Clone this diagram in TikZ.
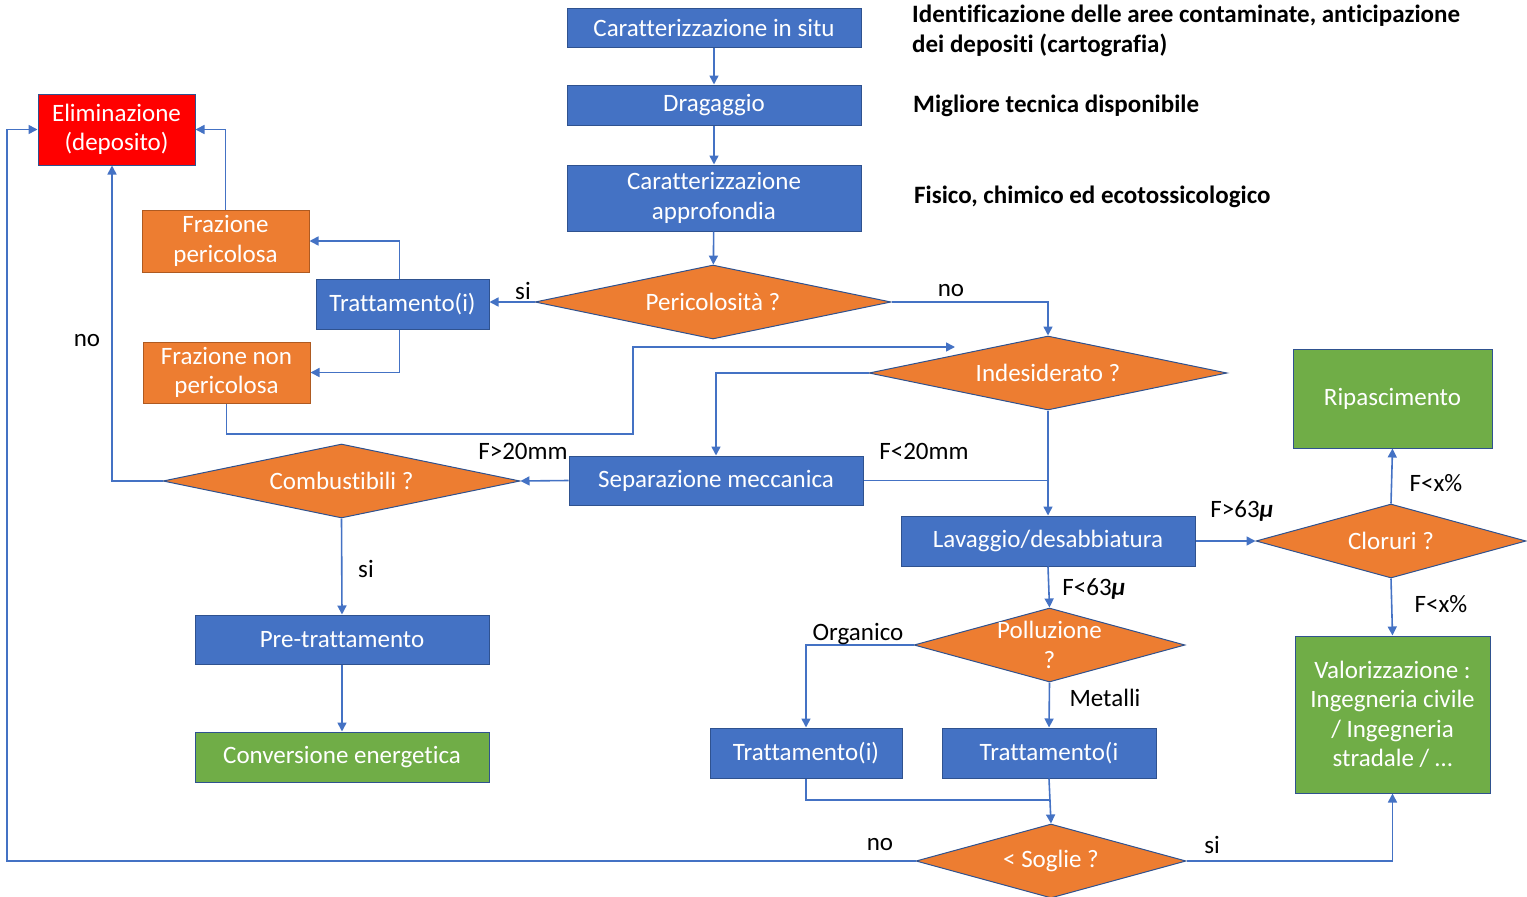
\documentclass[tikz,border=0pt]{standalone}
\usepackage{fontspec}
\setmainfont{Carlito}[Ligatures=NoCommon]
\usetikzlibrary{shapes.geometric,arrows.meta}
\definecolor{blu}{HTML}{4472C4}
\definecolor{bluscuro}{HTML}{2F528F}
\definecolor{arancio}{HTML}{ED7D31}
\definecolor{aranscuro}{HTML}{AE5A21}
\definecolor{verde}{HTML}{70AD47}
\definecolor{rosso}{HTML}{FF0000}
\begin{document}
\begin{tikzpicture}[x=1pt,y=-1pt] % filiera dei sedimenti dragati
\tikzstyle{every node}+=[font=\fontsize{25}{29.5}\selectfont, inner sep=0pt]
\tikzstyle{box}=[draw=bluscuro, line width=1pt, fill=blu, text=white, align=center]
\tikzstyle{fraz}=[box, draw=aranscuro, fill=arancio]
\tikzstyle{fine}=[box, fill=verde]
\tikzstyle{dec}=[diamond, draw=bluscuro, line width=1pt, fill=arancio, text=white, align=center, shape aspect=4]
\tikzstyle{wire}=[blu, line width=1.6pt]
\tikzstyle{link}=[wire, -{Triangle[length=9pt,width=9pt]}]
\tikzstyle{lab}=[text=black]
\tikzstyle{note}=[text=black, font=\fontsize{25}{29.5}\selectfont\bfseries, align=left, anchor=west]
\useasboundingbox (0,0) rectangle (1527,897);
% colonna centrale
\node[box, minimum width=294, minimum height=39] (situ) at (714,27.5) {Caratterizzazione in situ};
\node[box, minimum width=294, minimum height=40] (drag) at (714,105) {Dragaggio};
\node[box, minimum width=294, minimum height=66] (appro) at (714,198) {Caratterizzazione\\approfondia};
\node[dec, minimum width=356, minimum height=74] (peric) at (713,302) {Pericolosità ?};
\node[box, minimum width=173, minimum height=50] (tratA) at (402.5,304) {Trattamento(i)};
\node[fraz, minimum width=167, minimum height=62] (frazP) at (225.5,241) {Frazione\\pericolosa};
\node[fraz, minimum width=167, minimum height=61] (frazN) at (226.5,372.5) {Frazione non\\pericolosa};
\node[box, fill=rosso, minimum width=157, minimum height=71] (elim) at (116.5,129.5) {Eliminazione\\(deposito)};
\node[dec, minimum width=358, minimum height=74] (indes) at (1048,373) {Indesiderato ?};
\node[box, minimum width=294, minimum height=49] (sepM) at (716,480.5) {Separazione meccanica};
\node[dec, minimum width=357, minimum height=74] (combu) at (341.5,481) {Combustibili ?};
\node[box, minimum width=294, minimum height=49] (pretr) at (342,639.5) {Pre-trattamento};
\node[fine, minimum width=294, minimum height=50] (conv) at (342,757) {Conversione energetica};
\node[box, minimum width=294, minimum height=50] (lavag) at (1048,541) {Lavaggio/desabbiatura};
\node[dec, minimum width=270, minimum height=74] (clor) at (1391,541) {Cloruri ?};
\node[fine, minimum width=199, minimum height=99] (ripas) at (1392.5,398.5) {Ripascimento};
\node[fine, minimum width=195, minimum height=157] (valor) at (1392.5,714.5) {Valorizzazione :\\Ingegneria civile\\/ Ingegneria\\stradale / \dots};
\node[dec, minimum width=271, minimum height=74, inner ysep=-6pt] (pollu) at (1049.5,645) {Polluzione\\?};
\node[box, minimum width=192, minimum height=50] (tratB) at (806,753) {Trattamento(i)};
\node[box, minimum width=214, minimum height=50] (tratC) at (1049,753) {Trattamento(i};
\node[dec, minimum width=270, minimum height=74] (sogl) at (1051,861) {< Soglie ?};
% note a destra
\node[note] (noteA) at (912,31) {Identificazione delle aree contaminate, anticipazione\\dei depositi (cartografia)};
\node[note] (noteB) at (913,106) {Migliore tecnica disponibile};
\node[note] (noteC) at (914,197) {Fisico, chimico ed ecotossicologico};
% punti liberi
\coordinate (bendA) at (633,434);
\coordinate (entryI) at (955,347);
\coordinate (joinL) at (1048,480.5);
\coordinate (joinS) at (1050,800);
\coordinate (backL) at (7,861);
% collegamenti
\draw[link] (situ) -- (drag);
\draw[link] (drag) -- (appro);
\draw[link] (appro) -- (peric);
\draw[link] (peric.west) -- (peric.west -| tratA.east);
\draw[link] (peric.east) -| (indes.north);
\draw[link] ([xshift=-3pt]tratA.north) |- (frazP.east);
\draw[link] ([xshift=-3pt]tratA.south) |- (frazN.east);
\draw[link] (frazP.north) |- (elim.east);
\draw[link] (frazN.south) |- (bendA) |- (entryI);
\draw[link] (indes.west) -| (sepM.north);
\draw[link] (indes.south) -- (lavag.north);
\draw[wire] (sepM.east) -- (joinL);
\draw[link] (sepM.west) -- (combu.east);
\draw[link] (combu.west) -| ([xshift=-4.5pt]elim.south);
\draw[link] (combu.south) -- (pretr.north);
\draw[link] (pretr) -- (conv);
\draw[link] (lavag.east) -- (clor.west);
\draw[link] (lavag.south) -- (pollu.north);
\draw[link] (clor.north) -- (ripas.south);
\draw[link] (clor.south) -- (valor.north);
\draw[link] (pollu.west) -| (tratB.north);
\draw[link] (pollu.south) -- (tratC.north);
\draw[wire] (tratB.south) |- (joinS);
\draw[link] (tratC.south) -- (sogl.north);
\draw[link] (sogl.west) -- (backL) |- (elim.west);
\draw[link] (sogl.east) -| (valor.south);
% etichette
\node[lab] (lSiA) at (523,291) {si};
\node[lab] (lNoA) at (951,291) {no};
\node[lab] (lNoB) at (87,341) {no};
\node[lab] (lGt20) at (523,451) {F>20mm};
\node[lab] (lLt20) at (924,451) {F<20mm};
\node[lab] (lSiB) at (366,569) {si};
\node[lab] (lGt63) at (1242,511) {F>63{\bfseries\itshape μ}};
\node[lab] (lLt63) at (1094,589) {F<63{\bfseries\itshape μ}};
\node[lab] (lClA) at (1436,483) {F<x\%};
\node[lab] (lClB) at (1441,604) {F<x\%};
\node[lab] (lOrg) at (858,634) {Organico};
\node[lab] (lMet) at (1105,698) {Metalli};
\node[lab] (lNoC) at (880,845) {no};
\node[lab] (lSiC) at (1212,845) {si};
\end{tikzpicture}
\end{document}
